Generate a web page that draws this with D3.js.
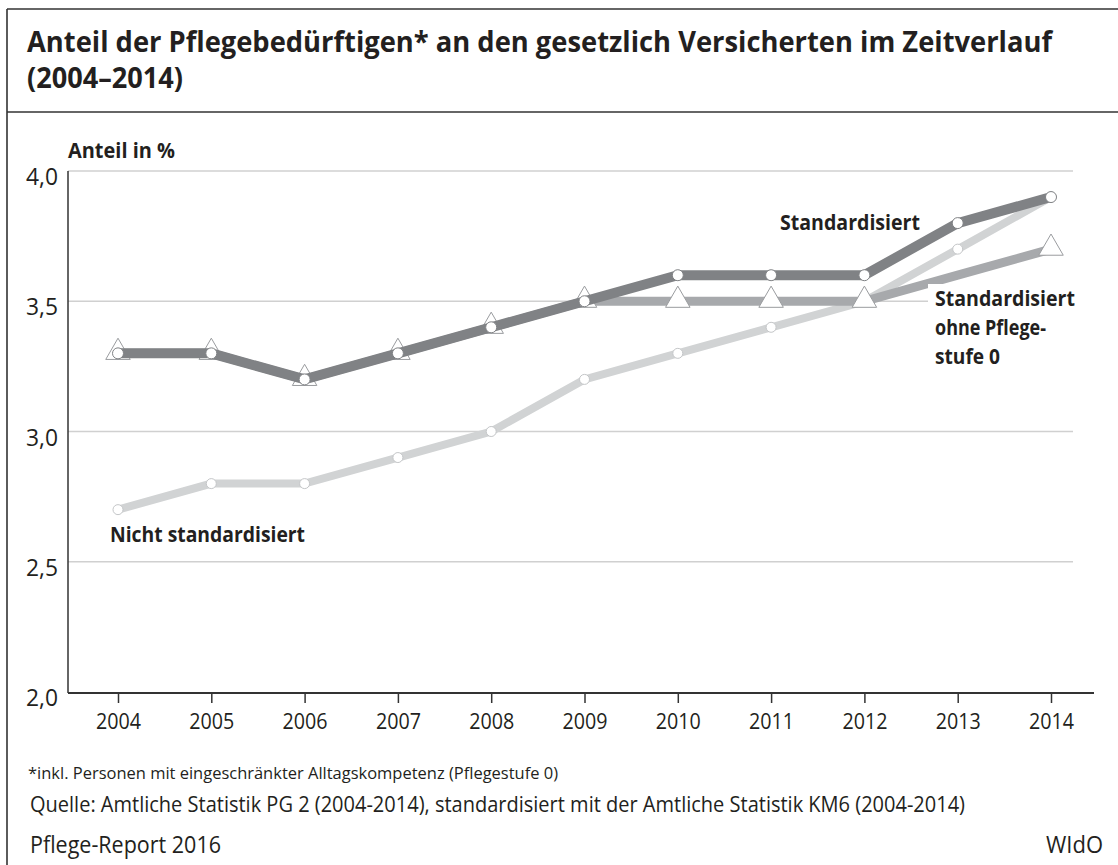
<!DOCTYPE html>
<html>
<head>
<meta charset="utf-8">
<script src="https://cdn.jsdelivr.net/npm/d3@7"></script>
<style>
  html, body { margin: 0; padding: 0; background: #fff; }
  svg { display: block; font-family: "Open Sans", "Noto Sans", sans-serif; }
</style>
</head>
<body>
<div id="chart"></div>
<script>
// Daten
const jahre = [2004, 2005, 2006, 2007, 2008, 2009, 2010, 2011, 2012, 2013, 2014];
const standardisiert = [3.3, 3.3, 3.2, 3.3, 3.4, 3.5, 3.6, 3.6, 3.6, 3.8, 3.9];
const ohnePflegestufe0 = [3.3, 3.3, 3.2, 3.3, 3.4, 3.5, 3.5, 3.5, 3.5, 3.6, 3.7];
const ohneMarkiert = [1, 1, 1, 1, 1, 1, 1, 1, 1, 0, 1];
const nichtStandardisiert = [2.7, 2.8, 2.8, 2.9, 3.0, 3.2, 3.3, 3.4, 3.5, 3.7, 3.9];
const yTicks = [2.0, 2.5, 3.0, 3.5, 4.0];

const W = 1118, H = 865;
const ink = '#231f20';

const svg = d3.select('#chart').append('svg')
    .attr('width', W)
    .attr('height', H);

// schmale Schrift nachbilden: Breite fest vorgeben
const narrow = (sel, w) => sel.attr('textLength', w).attr('lengthAdjust', 'spacingAndGlyphs');

// ── Rahmen ──────────────────────────────────────────────────────────────
svg.append('line').attr('x1', 7).attr('x2', 7).attr('y1', 9).attr('y2', H)
    .attr('stroke', '#333').attr('stroke-width', 1.6);
svg.append('line').attr('x1', 7).attr('x2', W).attr('y1', 9).attr('y2', 9)
    .attr('stroke', '#333').attr('stroke-width', 1.6);
svg.append('line').attr('x1', 7).attr('x2', W).attr('y1', 112).attr('y2', 112)
    .attr('stroke', '#333').attr('stroke-width', 1.6);

// ── Titel ───────────────────────────────────────────────────────────────
svg.append('text')
    .attr('x', 27).attr('y', 52)
    .attr('font-size', 28).attr('font-weight', 700).attr('fill', ink)
    .call(narrow, 1025)
    .text('Anteil der Pflegebedürftigen* an den gesetzlich Versicherten im Zeitverlauf');
svg.append('text')
    .attr('x', 27).attr('y', 88)
    .attr('font-size', 28).attr('font-weight', 700).attr('fill', ink)
    .call(narrow, 156)
    .text('(2004–2014)');

// ── Skalen ──────────────────────────────────────────────────────────────
const x = d3.scaleLinear().domain([2004, 2014]).range([118, 1051]);
const y = d3.scaleLinear().domain([2.0, 4.0]).range([692, 171]);
const left = 68, gridRight = 1073, axisRight = 1094;

// Gitterlinien
svg.append('g')
    .selectAll('line')
    .data(yTicks.filter(v => v > 2.0))
    .join('line')
    .attr('x1', left).attr('x2', gridRight)
    .attr('y1', d => y(d)).attr('y2', d => y(d))
    .attr('stroke', '#d0d0d0').attr('stroke-width', 1.5);

// y-Achse
svg.append('line')
    .attr('x1', left).attr('x2', left).attr('y1', y(4.0)).attr('y2', y(2.0) + 1)
    .attr('stroke', '#333').attr('stroke-width', 1.5);
svg.append('g')
    .selectAll('text')
    .data(yTicks)
    .join('text')
    .attr('x', 58)
    .attr('y', d => y(d) + 14)
    .attr('text-anchor', 'end')
    .attr('font-size', 23).attr('fill', ink)
    .call(narrow, 32)
    .text(d => d3.format('.1f')(d).replace('.', ','));

svg.append('text')
    .attr('x', 68).attr('y', 158)
    .attr('font-size', 21).attr('font-weight', 700).attr('fill', ink)
    .call(narrow, 107)
    .text('Anteil in %');

// x-Achse
const xAxis = svg.append('g')
    .attr('transform', `translate(0,${y(2.0) + 1})`)
    .call(d3.axisBottom(x).tickValues(jahre).tickFormat(d3.format('d')).tickSize(10).tickPadding(10));
xAxis.select('.domain').remove();
xAxis.insert('line', ':first-child')
    .attr('x1', left).attr('x2', axisRight)
    .attr('stroke', '#333').attr('stroke-width', 2);
xAxis.selectAll('.tick line').attr('stroke', '#333').attr('stroke-width', 1.5);
xAxis.selectAll('.tick text')
    .attr('font-size', 22).attr('fill', ink)
    .attr('font-family', '"Open Sans", sans-serif')
    .call(narrow, 45);

// ── Linien ──────────────────────────────────────────────────────────────
const line = d3.line().x((d, i) => x(jahre[i])).y(d => y(d));

// Nicht standardisiert
svg.append('path').datum(nichtStandardisiert)
    .attr('d', line).attr('fill', 'none')
    .attr('stroke', '#d1d3d4').attr('stroke-width', 8);
svg.append('g').selectAll('circle')
    .data(nichtStandardisiert)
    .join('circle')
    .attr('cx', (d, i) => x(jahre[i])).attr('cy', d => y(d)).attr('r', 5)
    .attr('fill', '#fff').attr('stroke', '#c4c6c8').attr('stroke-width', 1);

// Standardisiert ohne Pflegestufe 0
svg.append('path').datum(ohnePflegestufe0)
    .attr('d', line).attr('fill', 'none')
    .attr('stroke', '#a7a9ac').attr('stroke-width', 9);
svg.append('g').selectAll('path')
    .data(ohnePflegestufe0.map((v, i) => ({ v, i })).filter(d => ohneMarkiert[d.i]))
    .join('path')
    .attr('transform', d => `translate(${x(jahre[d.i])},${y(d.v) - 1})`)
    .attr('d', d3.symbol(d3.symbolTriangle, 260))
    .attr('fill', '#fff').attr('stroke', '#9a9c9f').attr('stroke-width', 1);

// Standardisiert
svg.append('path').datum(standardisiert)
    .attr('d', line).attr('fill', 'none')
    .attr('stroke', '#808285').attr('stroke-width', 10);
svg.append('g').selectAll('circle')
    .data(standardisiert)
    .join('circle')
    .attr('cx', (d, i) => x(jahre[i])).attr('cy', d => y(d)).attr('r', 5.5)
    .attr('fill', '#fff').attr('stroke', '#808285').attr('stroke-width', 1);

// ── Beschriftungen ──────────────────────────────────────────────────────
svg.append('text')
    .attr('x', 780).attr('y', 230)
    .attr('font-size', 21).attr('font-weight', 700).attr('fill', ink)
    .call(narrow, 140)
    .text('Standardisiert');

svg.append('rect')
    .attr('x', 928).attr('y', 284).attr('width', 150).attr('height', 30)
    .attr('fill', '#fff');
const lbl = svg.append('g').attr('font-size', 21).attr('font-weight', 700).attr('fill', ink);
[['Standardisiert', 140], ['ohne Pflege-', 111], ['stufe 0', 65]].forEach(([t, w], i) => {
    lbl.append('text')
        .attr('x', 935).attr('y', 306 + i * 29)
        .call(narrow, w)
        .text(t);
});

svg.append('text')
    .attr('x', 110).attr('y', 542)
    .attr('font-size', 21).attr('font-weight', 700).attr('fill', ink)
    .call(narrow, 195)
    .text('Nicht standardisiert');

// ── Fußzeilen ───────────────────────────────────────────────────────────
svg.append('text')
    .attr('x', 28).attr('y', 779)
    .attr('font-size', 16).attr('fill', ink)
    .call(narrow, 530)
    .text('*inkl. Personen mit eingeschränkter Alltagskompetenz (Pflegestufe 0)');
svg.append('text')
    .attr('x', 30).attr('y', 812)
    .attr('font-size', 21).attr('fill', ink)
    .call(narrow, 935)
    .text('Quelle: Amtliche Statistik PG 2 (2004-2014), standardisiert mit der Amtliche Statistik KM6 (2004-2014)');
svg.append('text')
    .attr('x', 30).attr('y', 853)
    .attr('font-size', 23).attr('fill', ink)
    .call(narrow, 191)
    .text('Pflege-Report 2016');
svg.append('text')
    .attr('x', 1103).attr('y', 853)
    .attr('text-anchor', 'end')
    .attr('font-size', 23).attr('fill', ink)
    .call(narrow, 57)
    .text('WIdO');
</script>
</body>
</html>
